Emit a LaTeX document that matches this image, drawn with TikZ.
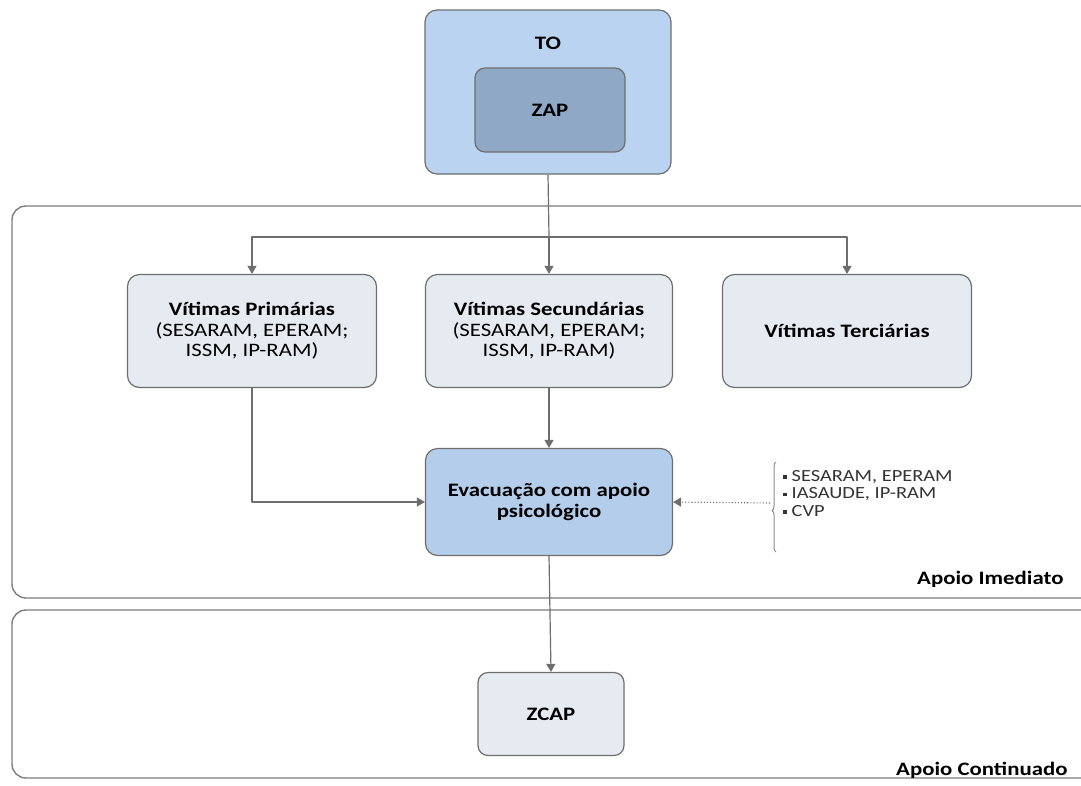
\documentclass[tikz,border=0pt]{standalone}
\usepackage{fontspec}
\setmainfont{Carlito}[FakeStretch=1.2]
\usetikzlibrary{arrows.meta,decorations.pathreplacing}
\definecolor{toblue}{HTML}{B9D3F0}
\definecolor{zapblue}{HTML}{8EA8C6}
\definecolor{vicbox}{HTML}{E6EBF2}
\definecolor{evblue}{HTML}{B4CDEB}
\definecolor{lgray}{HTML}{6E6E6E}
\newcommand{\sqbul}{\raisebox{2.5pt}{\rule{3.5pt}{3.5pt}}\hspace{5pt}}
\begin{document}
\begin{tikzpicture}[x=1pt,y=-1pt,>={Triangle[width=9pt,length=8pt]},
    font=\fontsize{19}{20.5}\selectfont, line join=round,
    frame/.style={draw=lgray!90,line width=1.4pt,rounded corners=14pt},
    box/.style={draw=lgray,line width=1.2pt,rounded corners=12pt,align=center,inner sep=2pt},
    tag/.style={font=\fontsize{19}{20}\selectfont\bfseries, anchor=east},
    link/.style={draw=lgray,line width=1.2pt,->}]
    \useasboundingbox (0,0) rectangle (1081,785);
    % outer frames
    \draw[frame] (12,206) rectangle (1095,598);
    \draw[frame] (12,610) rectangle (1095,778);
    \node[tag] (imed) at (1067,579) {Apoio Imediato};
    \node[tag] (cont) at (1071,770) {Apoio Continuado};
    % top boxes
    \node[box, fill=toblue, minimum width=246pt, minimum height=164pt] (to) at (548,92) {};
    \node[font=\fontsize{19}{20}\selectfont\bfseries] (tolab) at (548,43) {TO};
    \node[box, fill=zapblue, minimum width=150pt, minimum height=84pt, rounded corners=10pt] (zap) at (550,110) {\bfseries ZAP};
    % victims
    \node[box, fill=vicbox, minimum width=249pt, minimum height=113pt] (vprim) at (252,331) {\textbf{Vítimas Primárias}\\(SESARAM, EPERAM;\\ISSM, IP-RAM)};
    \node[box, fill=vicbox, minimum width=247pt, minimum height=113pt] (vsec) at (549,331) {\textbf{Vítimas Secundárias}\\(SESARAM, EPERAM;\\ISSM, IP-RAM)};
    \node[box, fill=vicbox, minimum width=249pt, minimum height=113pt] (vterc) at (847,331) {\bfseries Vítimas Terciárias};
    \node[box, fill=evblue, minimum width=247pt, minimum height=107pt] (evac) at (549,502) {\bfseries Evacuação com apoio\\\bfseries psicológico};
    \node[box, fill=vicbox, minimum width=146pt, minimum height=83pt, rounded corners=10pt] (zcap) at (551,714) {\bfseries ZCAP};
    % connectors
    \coordinate (split) at (549,237);
    \draw[draw=lgray,line width=1.2pt] (to.south) -- (split);
    \draw[link] (split) -| (vprim.north);
    \draw[link] (split) -- (vsec.north);
    \draw[link] (split) -| (vterc.north);
    \draw[link] (vsec.south) -- (evac.north);
    \draw[link] (vprim.south) |- (evac.west);
    \draw[link] (evac.south) -- (zcap.north);
    % support list
    \draw[draw=lgray!80,line width=1pt,decorate,decoration={brace,amplitude=4pt,aspect=0.46}] (776,552) -- (776,462);
    \coordinate (bt) at (770,503);
    \draw[draw=lgray,line width=1.1pt,dotted,->] (bt) -- (evac.east);
    \node[anchor=north west, align=left, font=\fontsize{17}{17.5}\selectfont, text=black!80, inner sep=0pt] (sup) at (783,470)
        {\sqbul SESARAM, EPERAM\\\sqbul IASAUDE, IP-RAM\\\sqbul CVP};
\end{tikzpicture}
\end{document}
